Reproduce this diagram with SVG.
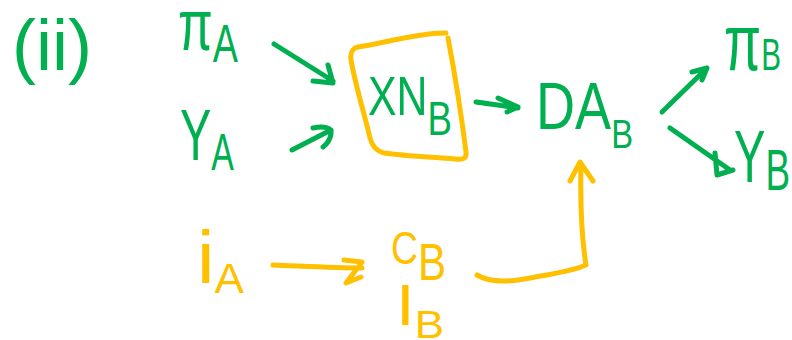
<svg xmlns="http://www.w3.org/2000/svg" width="792" height="340" viewBox="0 0 792 340">
  <defs>
    <style>
      .g { fill: #00B050; }
      .o { fill: #FFC000; }
      text { font-family: "Liberation Sans", "DejaVu Sans", sans-serif; }
      .ln { fill: none; stroke-width: 5; stroke-linecap: round; stroke-linejoin: round; }
      .lg { stroke: #00B050; }
      .lo { stroke: #FFC000; }
    </style>
  </defs>
  <rect width="792" height="340" fill="#ffffff"/>

  <!-- part label -->
  <g id="label-ii">
    <text class="g" x="12" y="70" font-size="72" textLength="80" lengthAdjust="spacingAndGlyphs">(ii)</text>
  </g>

  <!-- inputs of country A -->
  <g id="node-piA">
    <text class="g" x="178" y="50" textLength="60" lengthAdjust="spacingAndGlyphs"><tspan font-size="72">π</tspan><tspan font-size="54" y="62">A</tspan></text>
  </g>
  <g id="node-YA">
    <text class="g" x="180" y="160" textLength="54" lengthAdjust="spacingAndGlyphs"><tspan font-size="72">Y</tspan><tspan font-size="52" y="170">A</tspan></text>
  </g>
  <g id="node-iA">
    <text class="o" x="197" y="283" textLength="47" lengthAdjust="spacingAndGlyphs"><tspan font-size="75">i</tspan><tspan font-size="42" y="293">A</tspan></text>
  </g>

  <!-- net exports of B, boxed -->
  <g id="node-XNB">
    <path class="ln lo" d="M358,47 C380,44 420,32 446,33 M448,38 C456,80 462,120 466,152 C467,159 462,160 455,159 C430,157 405,156 384,153 C376,151 372,146 370,138 C364,112 356,88 351,60 C350,53 353,48 358,47"/>
    <text class="g" x="368" y="115" textLength="84" lengthAdjust="spacingAndGlyphs"><tspan font-size="56">XN</tspan><tspan font-size="48" y="135">B</tspan></text>
  </g>

  <!-- domestic absorption of B -->
  <g id="node-DAB">
    <text class="g" x="536" y="129" textLength="97" lengthAdjust="spacingAndGlyphs"><tspan font-size="66">DA</tspan><tspan font-size="40" y="148">B</tspan></text>
  </g>

  <!-- consumption and investment of B -->
  <g id="node-CB">
    <text class="o" x="391" y="264" textLength="55" lengthAdjust="spacingAndGlyphs"><tspan font-size="46">C</tspan><tspan font-size="52" y="280">B</tspan></text>
  </g>
  <g id="node-IB">
    <text class="o" x="396" y="325" textLength="48" lengthAdjust="spacingAndGlyphs"><tspan font-size="58">I</tspan><tspan font-size="38" y="338">B</tspan></text>
  </g>

  <!-- outputs of country B -->
  <g id="node-piB">
    <text class="g" x="724" y="70" textLength="57" lengthAdjust="spacingAndGlyphs"><tspan font-size="80">π</tspan><tspan font-size="44">B</tspan></text>
  </g>
  <g id="node-YB">
    <text class="g" x="734" y="182" textLength="56" lengthAdjust="spacingAndGlyphs"><tspan font-size="74">Y</tspan><tspan font-size="58" y="190">B</tspan></text>
  </g>

  <!-- connectors -->
  <g id="connectors">
    <path class="ln lg" d="M274,44 L333,81 M313,81 L333,83 L328,65"/>
    <path class="ln lg" d="M292,150 L331,130 M313,128 C323,126 333,127 331,134 C330,140 327,144 323,147"/>
    <path class="ln lg" d="M476,102 C490,104 505,106 518,108 M498,98 L518,107 L507,112"/>
    <path class="ln lg" d="M662,112 L707,68 M692,72 L707,68 L702,80"/>
    <path class="ln lg" d="M670,128 L730,170 M715,153 L717,175 L733,170"/>
    <path class="ln lo" d="M273,265 C300,266 335,268 362,268 M344,260 L362,262 L346,283 L361,277"/>
    <path class="ln lo" d="M477,275 C490,283 510,282 530,278 C550,274 570,272 586,265 C582,240 580,210 581,164 M570,181 L580,162 L593,181"/>
  </g>
</svg>
